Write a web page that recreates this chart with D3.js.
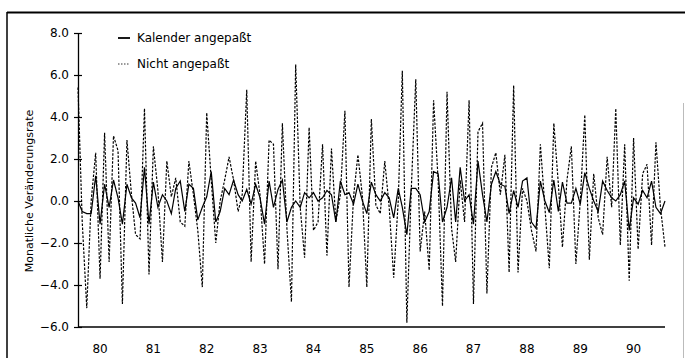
<!DOCTYPE html>
<html>
<head>
<meta charset="utf-8">
<script src="https://cdn.jsdelivr.net/npm/d3@7"></script>
<style>
  body { margin: 0; background: #fff; }
  svg { display: block; }
  text { font-family: "DejaVu Sans", sans-serif; fill: #000; }
</style>
</head>
<body>
<svg id="chart" width="685" height="358"></svg>
<script>
// monthly rate of change, Feb 1980 .. Feb 1991
let firstMonth = new Date(1980, 1, 1);
let lastMonth = new Date(1991, 1, 1);

// "Kalender angepaßt"
let adjusted = [
  0.0, -0.5, -0.6, -0.6, 1.2, -1.1, 0.8, -0.3, 1.0, 0.15, -1.1, 0.8, 0.15, -0.1, -0.8, 1.6,
  -1.1, 0.9, -0.3, 0.3, 0.0, -0.6, 0.6, 0.95, -0.5, 0.8, 0.6, -0.9,
  -0.3, 0.2, 1.4, -1.0, -0.5, 0.6, 0.3, 1.0, 0.3, 0.0, 0.55, -0.15, 0.8, 0.15, -1.1, 0.95,
  -0.3, 0.55, 1.0, -1.0, -0.3, 0.0, -0.3, 0.4, 0.15, 0.4, 0.0,
  0.15, 0.5, 0.3, -1.0, 0.95, 0.3, 0.4, -0.15, 0.8, 0.0, -0.6, 0.9, 0.3, 0.0, 0.4, 0.15,
  -0.8, 0.6, -0.3, -1.6, 0.6, 0.6, 0.3, -1.0, -0.5, 1.4, 1.3,
  -1.0, -0.3, 1.1, -1.0, 1.6, 0.0, 0.3, -1.1, 1.9, 0.3, -1.0, 0.8, 1.4, 0.8, 0.7, -0.6,
  0.5, -0.3, 0.95, 1.1, -1.0, -1.3, 0.95, 0.0, -0.55, 1.0, -0.5,
  0.9, -0.1, -0.1, 0.6, -0.15, 1.35, 0.6, 0.0, -0.5, 0.95, 0.5, 0.15, 0.0, 0.3, 0.95, -1.4,
  0.15, -0.15, 0.5, 0.15, 0.95, -0.3, -0.6, 0.0
];

// "Nicht angepaßt"
let unadjusted = [
  5.4, -1.0, -5.1, 0.0, 2.3, -3.7, 3.25, -2.9, 3.1, 2.4, -4.9, 2.9, 0.3, -1.6, -1.8, 4.4,
  -3.5, 2.6, 0.5, -2.9, 1.9, 0.2, 1.1, -1.0, -1.2, 1.9, 0.3, -1.4,
  -4.1, 4.2, 1.0, -2.0, 0.0, 1.0, 2.1, 1.0, -0.5, 0.3, 5.3, -2.9, 1.9, 0.3, -3.0, 2.9,
  2.7, -3.25, 3.7, -1.3, -4.8, 6.5, -0.3, -2.7, 3.5, -1.4, -1.0,
  2.7, -2.6, 2.5, -1.0, 0.3, 4.3, -4.1, 0.2, 2.2, 0.2, -4.1, 3.9, -0.2, -0.6, 1.9, -0.3,
  -3.65, 0.0, 6.2, -5.8, 0.5, 5.8, -2.4, -0.5, -3.3, 4.8, 1.0,
  -5.0, 5.2, -1.3, -2.9, 1.0, -1.0, 4.8, -4.9, 3.3, 3.7, -4.4, 1.6, 2.3, 0.3, 2.2, -3.4,
  5.5, -3.4, 0.6, 0.0, -1.4, -2.4, 2.7, -0.3, -3.2, 3.7, 0.8,
  -2.2, 1.0, 2.6, -3.0, 0.0, 4.1, -2.8, 1.3, -0.8, -1.6, 2.1, -0.3, 4.4, -2.1, 2.7, -3.8,
  3.0, -2.3, 1.3, 1.75, -2.1, 2.8, -0.3, -2.2
];

let yTicks = [-6, -4, -2, 0, 2, 4, 6, 8];
let yearTicks = [1980, 1981, 1982, 1983, 1984, 1985, 1986, 1987, 1988, 1989, 1990];
let yearLabels = ["80", "81", "82", "83", "84", "85", "86", "87", "88", "89", "90"];

let svg = d3.select("#chart");

// outer frame of the scanned page
svg.append("line").attr("x1", 7).attr("x2", 685).attr("y1", 12.5).attr("y2", 12.5)
    .attr("stroke", "#000").attr("stroke-width", 2);
svg.append("line").attr("x1", 7).attr("x2", 7).attr("y1", 12).attr("y2", 358)
    .attr("stroke", "#000").attr("stroke-width", 1.5);
svg.append("line").attr("x1", 683.5).attr("x2", 683.5).attr("y1", 103).attr("y2", 358)
    .attr("stroke", "#bbb").attr("stroke-width", 1);

let months = d3.timeMonth.range(firstMonth, d3.timeMonth.offset(lastMonth, 1));

let x = d3.scaleTime().domain([firstMonth, lastMonth]).range([78, 665]);
let y = d3.scaleLinear().domain([-6, 8]).range([327, 33]);

// y axis with ticks crossing the line
let yAxis = svg.append("g")
    .attr("transform", "translate(78,0)")
    .call(d3.axisLeft(y).tickValues(yTicks).tickSize(4).tickSizeOuter(0)
        .tickFormat(d => d3.format(".1f")(d).replace("-", "\u2212")));
yAxis.select(".domain").attr("stroke-width", 1.3);
yAxis.selectAll(".tick line").clone().attr("x2", 4);
yAxis.selectAll(".tick line").attr("stroke-width", 1.2);
yAxis.selectAll("text").attr("x", -9).style("font-size", "12px");

// x axis: plain line, labels at mid-year
svg.append("line").attr("x1", 78).attr("x2", 665).attr("y1", y(-6)).attr("y2", y(-6))
    .attr("stroke", "#000").attr("stroke-width", 1.6);
svg.append("g").selectAll("text")
    .data(yearTicks)
    .enter().append("text")
    .attr("x", d => x(new Date(d, 6, 1)))
    .attr("y", 353)
    .attr("text-anchor", "middle")
    .style("font-size", "12px")
    .text((d, i) => yearLabels[i]);

svg.append("text")
    .attr("transform", "translate(33,191) rotate(-90)")
    .attr("text-anchor", "middle")
    .style("font-size", "11px")
    .text("Monatliche Veränderungsrate");

let line = d3.line()
    .x((d, i) => x(months[i]))
    .y(d => y(d));

svg.append("path")
    .datum(unadjusted)
    .attr("fill", "none")
    .attr("stroke", "#000")
    .attr("stroke-width", 1.2)
    .attr("stroke-dasharray", "2.5,1.5")
    .attr("d", line);

svg.append("path")
    .datum(adjusted)
    .attr("fill", "none")
    .attr("stroke", "#000")
    .attr("stroke-width", 1.2)
    .attr("d", line);

// legend
let legend = svg.append("g");
legend.append("line").attr("x1", 118).attr("x2", 130).attr("y1", 38).attr("y2", 38)
    .attr("stroke", "#000").attr("stroke-width", 1.8);
legend.append("text").attr("x", 137).attr("y", 42).style("font-size", "12px")
    .text("Kalender angepaßt");
legend.append("line").attr("x1", 118).attr("x2", 129).attr("y1", 64).attr("y2", 64)
    .attr("stroke", "#000").attr("stroke-width", 0.8).attr("stroke-dasharray", "1.5,1.5");
legend.append("text").attr("x", 137).attr("y", 68).style("font-size", "12px")
    .text("Nicht angepaßt");
</script>
</body>
</html>
